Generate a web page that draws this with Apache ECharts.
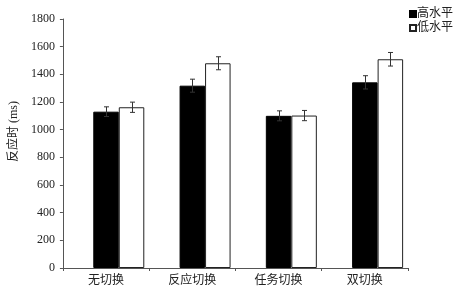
<!DOCTYPE html>
<html><head><meta charset="utf-8">
<script src="https://cdn.jsdelivr.net/npm/echarts@6/dist/echarts.min.js"></script>
<style>html,body{margin:0;padding:0;background:#fff}#c{width:455px;height:293px}</style>
</head><body><div id="c"></div>
<script>
var categories = ['无切换', '反应切换', '任务切换', '双切换'];
var seriesNames = ['高水平', '低水平'];
var highValues = [1130, 1318, 1100, 1342];
var lowValues = [1162, 1480, 1102, 1509];
var highErr = [35, 47, 36, 48];
var lowErr = [37, 47, 37, 49];
var yTicks = [0, 200, 400, 600, 800, 1000, 1200, 1400, 1600, 1800];

var FONT = "'Liberation Serif', 'Noto Sans CJK SC', serif";
var BW = 25.5;
var chart = echarts.init(document.getElementById('c'), null, {renderer: 'canvas'});

function errSeries(vals, errs, offset) {
  return {
    type: 'custom',
    silent: true,
    z: 10,
    data: vals.map(function (v, i) { return [i, v, errs[i]]; }),
    renderItem: function (params, api) {
      var i = api.value(0), v = api.value(1), e = api.value(2);
      var top = api.coord([i, v + e]);
      var bot = api.coord([i, v - e]);
      var x = Math.round(top[0] + offset) + 0.5;
      var hw = 2.5;
      var st = {stroke: '#333', lineWidth: 1};
      return {type: 'group', children: [
        {type: 'line', shape: {x1: x, y1: top[1], x2: x, y2: bot[1]}, style: st},
        {type: 'line', shape: {x1: x - hw, y1: top[1], x2: x + hw, y2: top[1]}, style: st},
        {type: 'line', shape: {x1: x - hw, y1: bot[1], x2: x + hw, y2: bot[1]}, style: st}
      ]};
    }
  };
}

chart.setOption({
  animation: false,
  textStyle: {fontFamily: FONT},
  grid: {left: 59, right: 47, top: 19, bottom: 25, containLabel: false},
  legend: {
    data: seriesNames,
    orient: 'vertical',
    left: 404, top: 3,
    itemWidth: 6, itemHeight: 6, itemGap: 2,
    icon: 'rect',
    textStyle: {fontFamily: FONT, fontSize: 12, color: '#222', padding: [0, 0, 0, -4]}
  },
  xAxis: {
    type: 'category',
    data: categories,
    axisLine: {lineStyle: {color: '#555', width: 1}},
    axisTick: {show: true, length: 3, lineStyle: {color: '#555'}},
    axisLabel: {fontFamily: FONT, fontSize: 12, color: '#222', margin: 7}
  },
  yAxis: {
    type: 'value',
    min: yTicks[0], max: yTicks[yTicks.length - 1], interval: 200,
    name: '反应时 (ms)',
    nameLocation: 'middle', nameRotate: 90, nameGap: 42,
    nameTextStyle: {fontFamily: FONT, fontSize: 12, color: '#222', padding: [0, 0, 0, 24]},
    axisLine: {show: true, lineStyle: {color: '#555', width: 1}},
    axisTick: {show: true, length: 3, lineStyle: {color: '#555'}},
    splitLine: {show: false},
    axisLabel: {fontFamily: FONT, fontSize: 12, color: '#222', margin: 8,
      formatter: function (v) { return String(v); }}
  },
  series: [
    {name: '_', type: 'bar', barWidth: BW, barGap: '0%', data: categories.map(function(){return '-';})},
    {name: seriesNames[0], type: 'bar', barWidth: BW, barGap: '0%', data: highValues,
      itemStyle: {color: '#000', borderColor: '#000', borderWidth: 1}},
    {name: seriesNames[1], type: 'bar', barWidth: BW, barGap: '0%', data: lowValues,
      itemStyle: {color: '#fff', borderColor: '#222', borderWidth: 1}},
    errSeries(highValues, highErr, 0),
    errSeries(lowValues, lowErr, BW)
  ]
});
</script></body></html>
